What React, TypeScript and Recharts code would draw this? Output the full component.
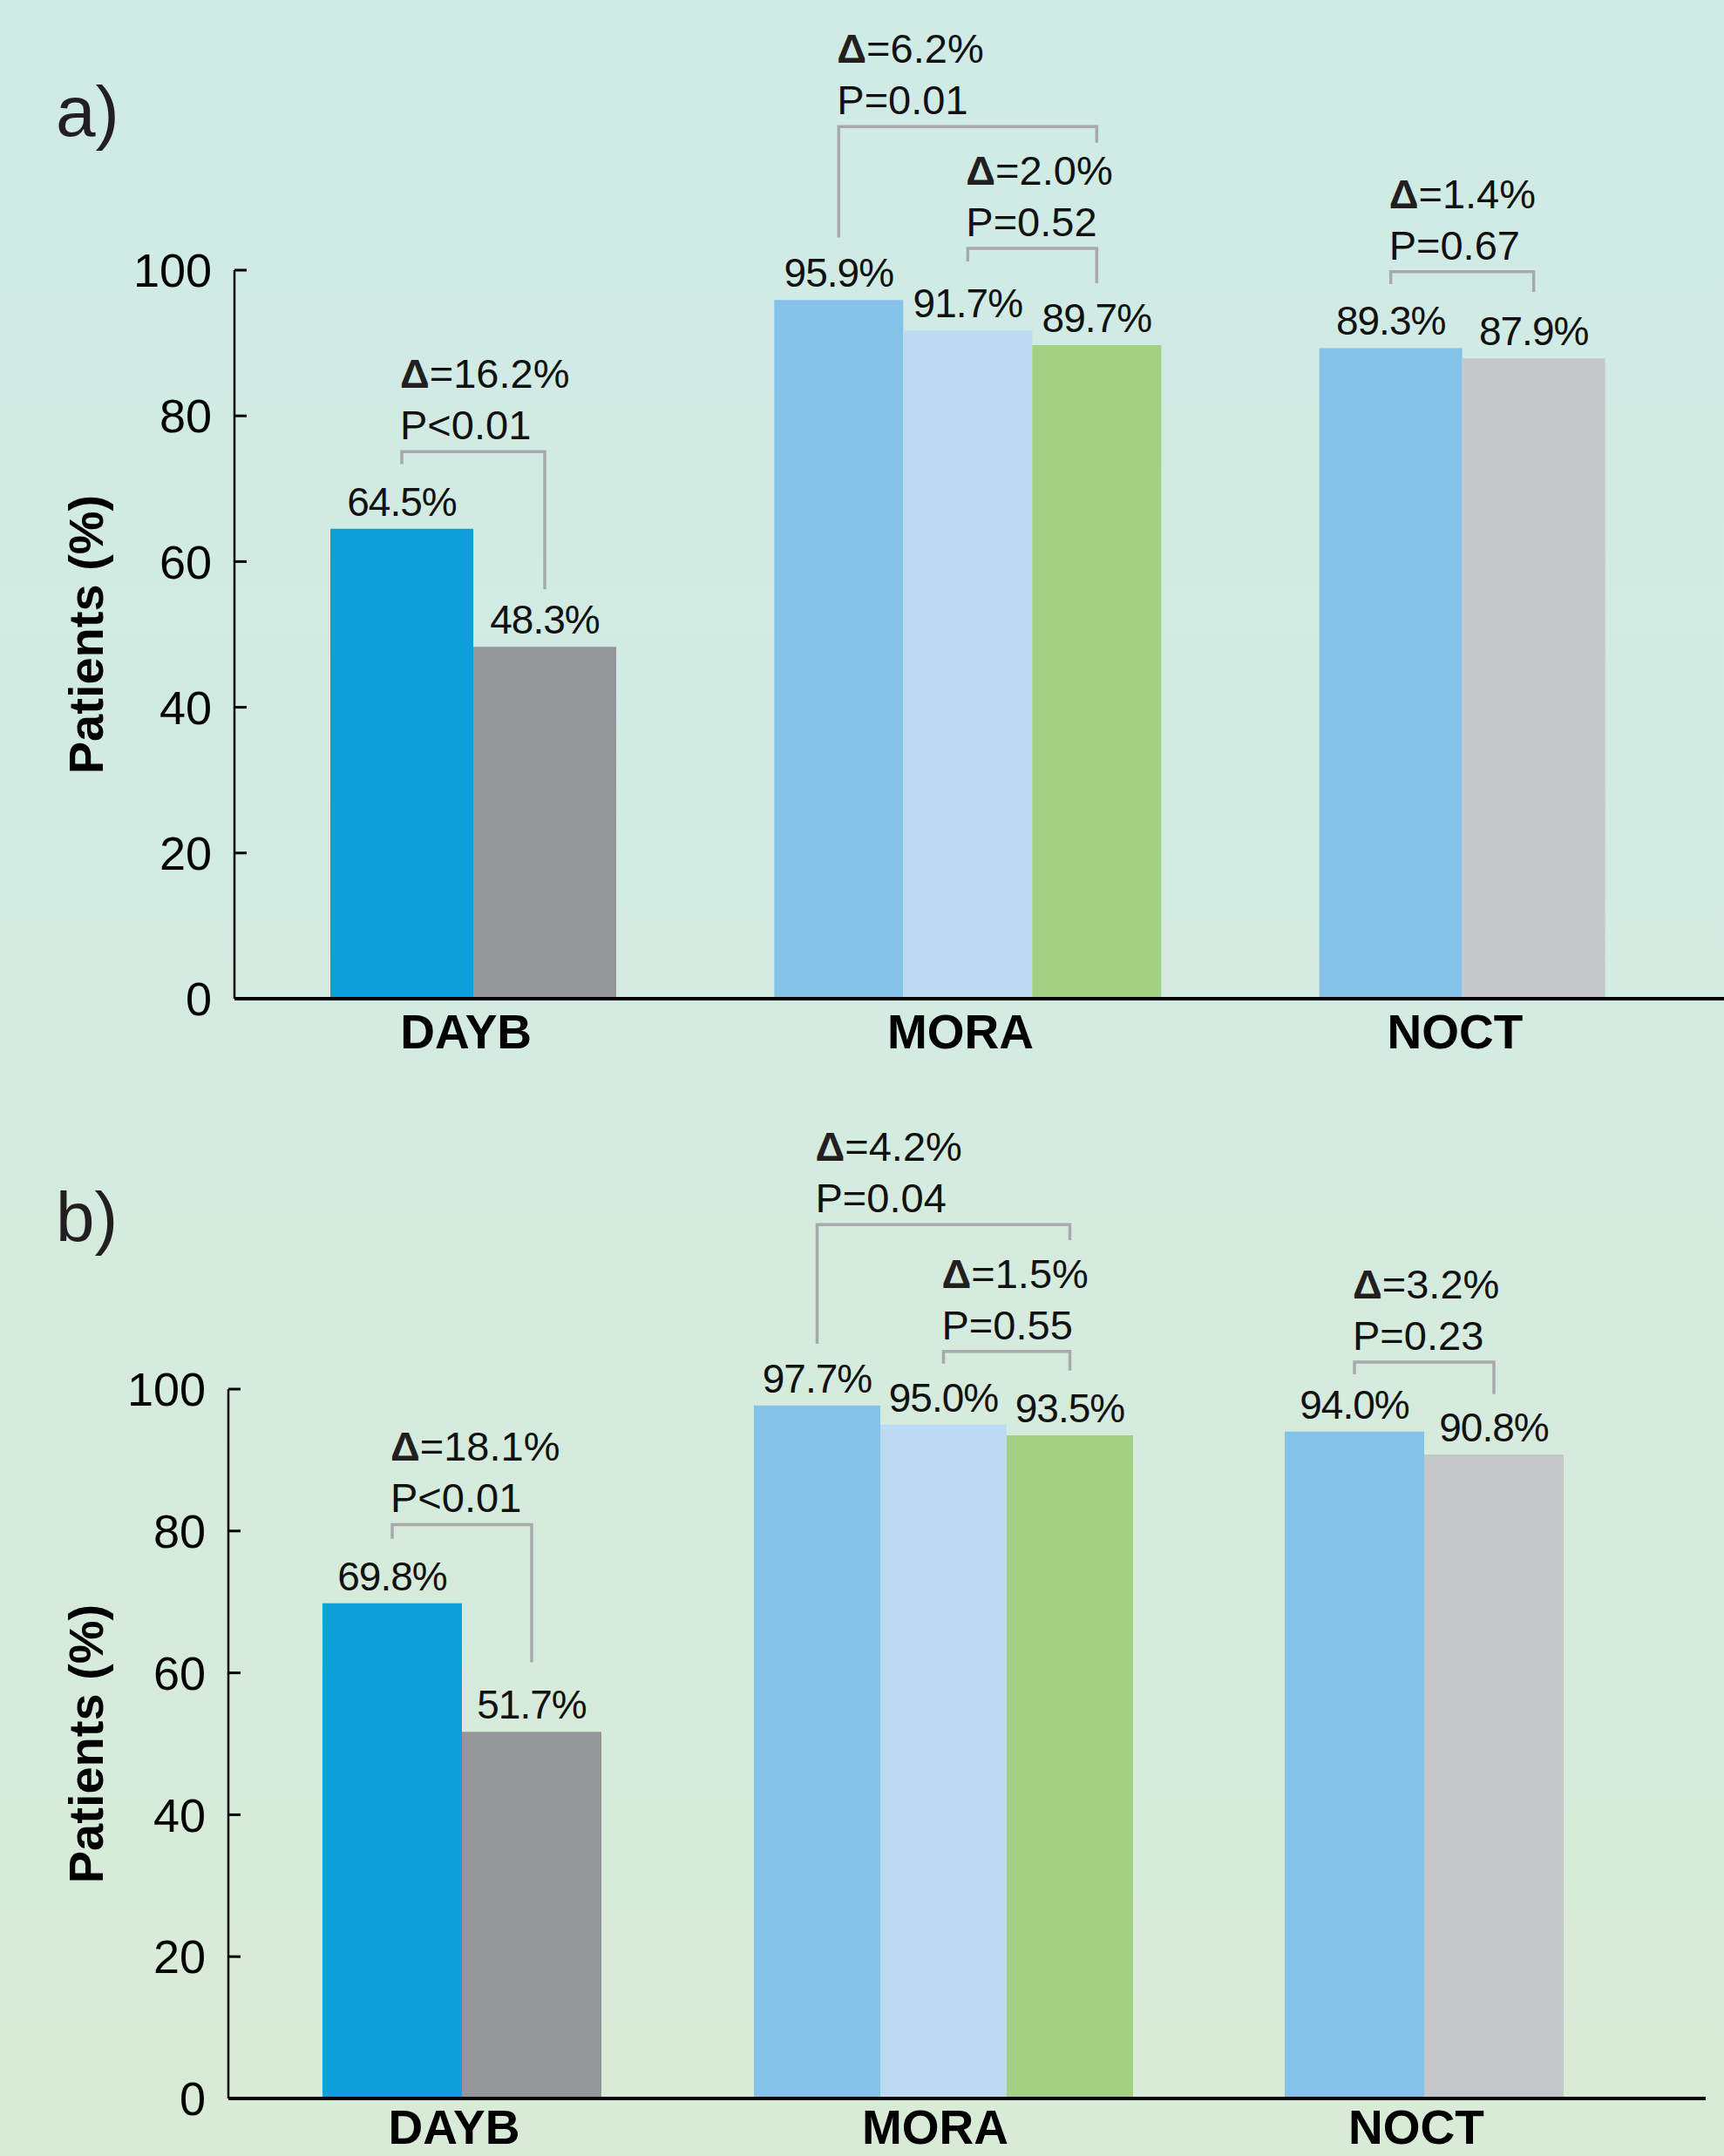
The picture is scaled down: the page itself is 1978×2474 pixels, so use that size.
import React from 'react'
import { BarChart, Bar, XAxis, YAxis, Cell, LabelList, Label } from 'recharts'

const FONT = '"Liberation Sans", Arial, Helvetica, sans-serif'

const categories = ['DAYB', 'MORA', 'NOCT']
const yTicks = [0, 20, 40, 60, 80, 100]

// panel a
const aDayb = [64.5, 48.3]
const aMora = [95.9, 91.7, 89.7]
const aNoct = [89.3, 87.9]

// panel b
const bDayb = [69.8, 51.7]
const bMora = [97.7, 95.0, 93.5]
const bNoct = [94.0, 90.8]

// comparisons: bars compared inside a group, bracket level and leg ends in axis units
type Bracket = { cat: string; from: number; to: number; delta: string; p: string; top: number; leftEnd: number; rightEnd: number }

const aBrackets: Bracket[] = [
  { cat: 'DAYB', from: 0, to: 1, delta: '16.2%', p: 'P<0.01', top: 75.1, leftEnd: 73.4, rightEnd: 56.2 },
  { cat: 'MORA', from: 0, to: 2, delta: '6.2%', p: 'P=0.01', top: 119.7, leftEnd: 104.5, rightEnd: 117.5 },
  { cat: 'MORA', from: 1, to: 2, delta: '2.0%', p: 'P=0.52', top: 103.0, leftEnd: 101.2, rightEnd: 98.2 },
  { cat: 'NOCT', from: 0, to: 1, delta: '1.4%', p: 'P=0.67', top: 99.8, leftEnd: 98.1, rightEnd: 97.0 },
]
const bBrackets: Bracket[] = [
  { cat: 'DAYB', from: 0, to: 1, delta: '18.1%', p: 'P<0.01', top: 80.9, leftEnd: 78.9, rightEnd: 61.5 },
  { cat: 'MORA', from: 0, to: 2, delta: '4.2%', p: 'P=0.04', top: 123.2, leftEnd: 106.4, rightEnd: 121.0 },
  { cat: 'MORA', from: 1, to: 2, delta: '1.5%', p: 'P=0.55', top: 105.3, leftEnd: 103.6, rightEnd: 102.6 },
  { cat: 'NOCT', from: 0, to: 1, delta: '3.2%', p: 'P=0.23', top: 103.8, leftEnd: 102.1, rightEnd: 99.3 },
]

const pairColors: Record<string, string[]> = {
  DAYB: ['#0ea0db', '#959699'],
  NOCT: ['#85c2e9', '#c6c7c9'],
}
const moraColors = ['#85c2e9', '#bcdaf1', '#a3d184']

function buildRows(dayb: number[], mora: number[], noct: number[]) {
  return [
    { name: categories[0], p1: dayb[0], p2: dayb[1] },
    { name: categories[1], t1: mora[0], t2: mora[1], t3: mora[2] },
    { name: categories[2], p1: noct[0], p2: noct[1] },
  ]
}

function box(props: any) {
  const vb = props.viewBox || {}
  return {
    x: vb.x ?? props.x,
    y: vb.y ?? props.y,
    width: vb.width ?? props.width,
    height: vb.height ?? props.height,
  }
}

const valueLabel = (props: any) => {
  const { value } = props
  if (value == null) return null
  const { x, y, width } = box(props)
  if (x == null) return null
  return (
    <text x={x + width / 2} y={y - 15} textAnchor="middle" fontFamily={FONT} fontSize={46}
      letterSpacing={-1} fill="#111">
      {Number(value).toFixed(1)}%
    </text>
  )
}

const bracketLabel = (rows: any[], key: string, brackets: Bracket[], series: number) => (props: any) => {
  const { value } = props
  if (value == null) return null
  const { x, y, width, height } = box(props)
  if (x == null || !height) return null
  const row = rows.find(r => r[key] === value)
  if (!row) return null
  const list = brackets.filter(b => b.cat === row.name && b.from === series)
  if (!list.length) return null
  const base = y + height
  const ppu = height / Number(value)
  const py = (v: number) => base - v * ppu
  const lx = x + width / 2
  return (
    <g>
      {list.map((b, i) => {
        const rx = lx + (b.to - b.from) * width
        const ty = py(b.top)
        return (
          <g key={i}>
            <path d={`M${lx},${py(b.leftEnd)}L${lx},${ty}L${rx},${ty}L${rx},${py(b.rightEnd)}`}
              fill="none" stroke="#a7a9ac" strokeWidth={3.5} />
            <text x={lx - 2} y={ty - 73} fontFamily={FONT} fontSize={47} fill="#111">
              <tspan fontWeight="bold" fill="#231f20">Δ</tspan>={b.delta}
            </text>
            <text x={lx - 2} y={ty - 14} fontFamily={FONT} fontSize={47} fill="#111">{b.p}</text>
          </g>
        )
      })}
    </g>
  )
}

const CatTick = (props: any) => {
  const { x, y, payload, dx } = props
  return (
    <text x={x + dx} y={y} dy={39} textAnchor="middle" fontFamily={FONT} fontWeight="bold"
      fontSize={55} fill="#000">{payload.value}</text>
  )
}

const yLabel = (props: any) => {
  const vb = props.viewBox
  const cx = 118
  const cy = vb.y + vb.height / 2
  return (
    <text x={cx} y={cy} transform={`rotate(-90, ${cx}, ${cy})`} textAnchor="middle"
      fontFamily={FONT} fontWeight="bold" fontSize={56} fill="#000">Patients (%)</text>
  )
}

type PanelProps = {
  rows: any[]
  brackets: Bracket[]
  top: number
  height: number
  marginTop: number
  marginRight: number
  axisWidth: number
  padL: number
  padR: number
  pairSize: number
  tripleSize: number
  tickGap: number
  labelDx: number
}

function Panel(p: PanelProps) {
  const padding = { left: p.padL, right: p.padR }
  return (
    <div style={{ position: 'absolute', left: 0, top: p.top }}>
      <BarChart width={1978} height={p.height} data={p.rows} barGap={0}
        margin={{ top: p.marginTop, right: p.marginRight, bottom: 0, left: 0 }}>
        <XAxis xAxisId="pair" dataKey="name" height={80} padding={padding} tickSize={0}
          tickMargin={p.tickGap} axisLine={{ stroke: '#000', strokeWidth: 4 }}
          tick={<CatTick dx={p.labelDx} />} interval={0} />
        <XAxis xAxisId="triple" dataKey="name" hide padding={padding} />
        <YAxis width={p.axisWidth} domain={[0, 100]} ticks={yTicks} interval={0}
          tickSize={-14} tickMargin={40}
          axisLine={{ stroke: '#000', strokeWidth: 2.5 }} tickLine={{ stroke: '#000', strokeWidth: 3 }}
          tick={{ fontFamily: FONT, fontSize: 54, fill: '#000' }}>
          <Label content={yLabel} />
        </YAxis>
        {['p1', 'p2'].map((k, s) => (
          <Bar key={k} xAxisId="pair" dataKey={k} barSize={p.pairSize} isAnimationActive={false}>
            {p.rows.map(r => (
              <Cell key={r.name} fill={pairColors[r.name] ? pairColors[r.name][s] : 'none'} />
            ))}
            <LabelList dataKey={k} content={valueLabel} />
            <LabelList dataKey={k} content={bracketLabel(p.rows, k, p.brackets, s)} />
          </Bar>
        ))}
        {['t1', 't2', 't3'].map((k, s) => (
          <Bar key={k} xAxisId="triple" dataKey={k} barSize={p.tripleSize} fill={moraColors[s]}
            isAnimationActive={false}>
            <LabelList dataKey={k} content={valueLabel} />
            <LabelList dataKey={k} content={bracketLabel(p.rows, k, p.brackets, s)} />
          </Bar>
        ))}
      </BarChart>
    </div>
  )
}

export default function App() {
  return (
    <div style={{
      position: 'absolute', left: 0, top: 0, width: 1978, height: 2474, overflow: 'hidden',
      background: 'linear-gradient(180deg, #cfebe5 0%, #d3ebe1 45%, #d8ebd6 100%)',
    }}>
      <Panel rows={buildRows(aDayb, aMora, aNoct)} brackets={aBrackets} top={0} height={1226}
        marginTop={310} marginRight={0} axisWidth={269} padL={-10} padR={17}
        pairSize={164} tripleSize={148} tickGap={18} labelDx={-8} />
      <Panel rows={buildRows(bDayb, bMora, bNoct)} brackets={bBrackets} top={1250} height={1238}
        marginTop={344} marginRight={21} axisWidth={262} padL={-8} padR={47}
        pairSize={160} tripleSize={145} tickGap={13} labelDx={-9} />
      <svg width={1978} height={2474} style={{ position: 'absolute', left: 0, top: 0, pointerEvents: 'none' }}>
        <text x={64} y={156} fontFamily={FONT} fontSize={82} fill="#231f20">a)</text>
        <text x={64} y={1424} fontFamily={FONT} fontSize={80} fill="#231f20">b)</text>
      </svg>
    </div>
  )
}
